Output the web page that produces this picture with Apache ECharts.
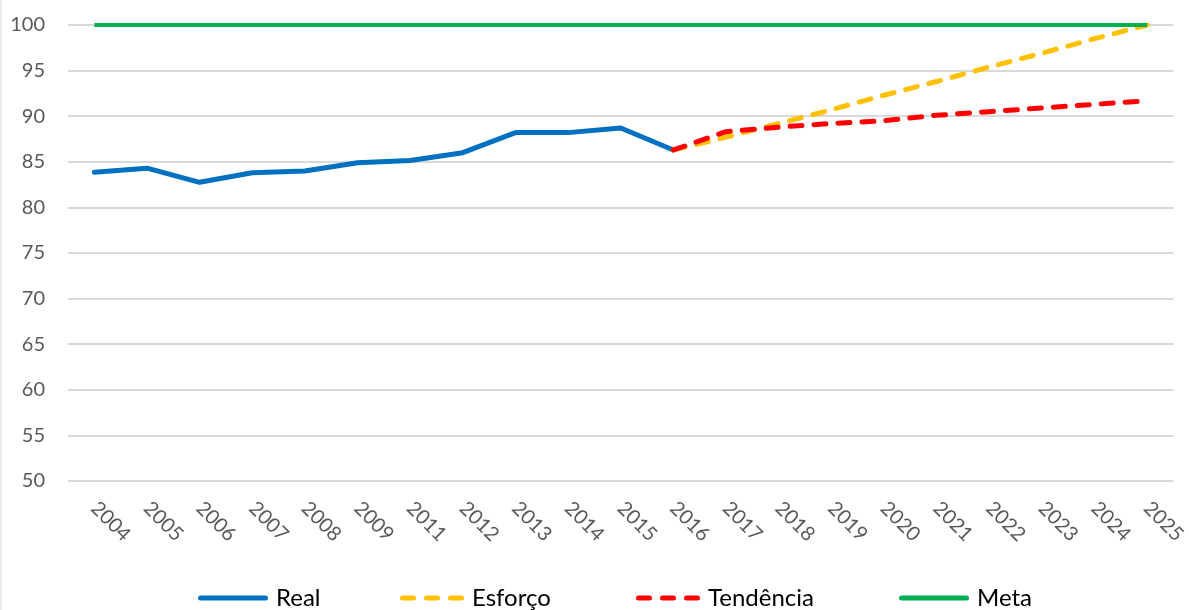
<!DOCTYPE html>
<html>
<head>
<meta charset="utf-8">
<script src="https://cdn.jsdelivr.net/npm/echarts@6/dist/echarts.min.js"></script>
<style>
html,body{margin:0;padding:0;background:#fff;}
#chart{width:1189px;height:610px;}
</style>
</head>
<body>
<div id="chart"></div>
<script>
const years = ['2004','2005','2006','2007','2008','2009','2011','2012','2013','2014','2015','2016','2017','2018','2019','2020','2021','2022','2023','2024','2025'];
const real = [83.85,84.3,82.75,83.8,84.0,84.9,85.15,86.0,88.2,88.2,88.7,86.3,null,null,null,null,null,null,null,null,null];
const esforco = [null,null,null,null,null,null,null,null,null,null,null,86.3,87.7,89.2,90.7,92.3,93.8,95.4,96.9,98.5,100];
const tendencia = [null,null,null,null,null,null,null,null,null,null,null,86.3,88.3,88.8,89.2,89.5,90.1,90.5,90.9,91.3,91.7];
const meta = [100,100,100,100,100,100,100,100,100,100,100,100,100,100,100,100,100,100,100,100,100];
const yMin = 50, yMax = 100, yStep = 5;

const chart = echarts.init(document.getElementById('chart'));
const FONT = 'Lato';
const SOLID = 'path://M2.5,0h65a2.5,2.5 0 0 1 0,5h-65a2.5,2.5 0 0 1 0,-5z';
const DASH = 'path://M2.5,0h11a2.5,2.5 0 0 1 0,5h-11a2.5,2.5 0 0 1 0,-5zM26.5,0h11a2.5,2.5 0 0 1 0,5h-11a2.5,2.5 0 0 1 0,-5zM50.5,0h11a2.5,2.5 0 0 1 0,5h-11a2.5,2.5 0 0 1 0,-5z';
function legendAt(name, left, icon, w){
  return {
    data:[{name:name, icon:icon}], left:left, top:586, padding:0,
    itemWidth:w, itemHeight:5,
    textStyle:{fontFamily:FONT, fontSize:24, color:'#000', padding:[0,0,0,3]}
  };
}
chart.setOption({
  animation:false,
  backgroundColor:'#fff',
  graphic:[{type:'line', shape:{x1:1,y1:0,x2:1,y2:610}, style:{stroke:'#d9d9d9', lineWidth:1}}],
  grid:{left:68, right:11, top:25, bottom:129},
  legend:[legendAt('Real',198,SOLID,70), legendAt('Esforço',400,DASH,64), legendAt('Tendência',636,DASH,64), legendAt('Meta',899,SOLID,70)],
  xAxis:{
    type:'category', data:years, boundaryGap:true,
    axisLine:{show:false}, axisTick:{show:false},
    axisLabel:{rotate:-45, margin:24, color:'#595959', fontFamily:FONT, fontSize:20, interval:0}
  },
  yAxis:{
    type:'value', min:yMin, max:yMax, interval:yStep,
    axisLine:{show:false}, axisTick:{show:false},
    axisLabel:{margin:23, color:'#595959', fontFamily:FONT, fontSize:20},
    splitLine:{lineStyle:{color:'#d9d9d9', width:2}}
  },
  series:[
    {name:'Real', type:'line', data:real, symbol:'none', lineStyle:{color:'#0070C0', width:5, cap:'round', join:'round'}, itemStyle:{color:'#0070C0'}},
    {name:'Esforço', type:'line', data:esforco, symbol:'none', lineStyle:{color:'#FFC000', width:5, type:[12,12], cap:'round'}, itemStyle:{color:'#FFC000'}},
    {name:'Tendência', type:'line', data:tendencia, symbol:'none', lineStyle:{color:'#FF0000', width:5, type:[12,12], cap:'round'}, itemStyle:{color:'#FF0000'}},
    {name:'Meta', type:'line', data:meta, symbol:'none', lineStyle:{color:'#00B050', width:4}, itemStyle:{color:'#00B050'}}
  ]
});
</script>
</body>
</html>
